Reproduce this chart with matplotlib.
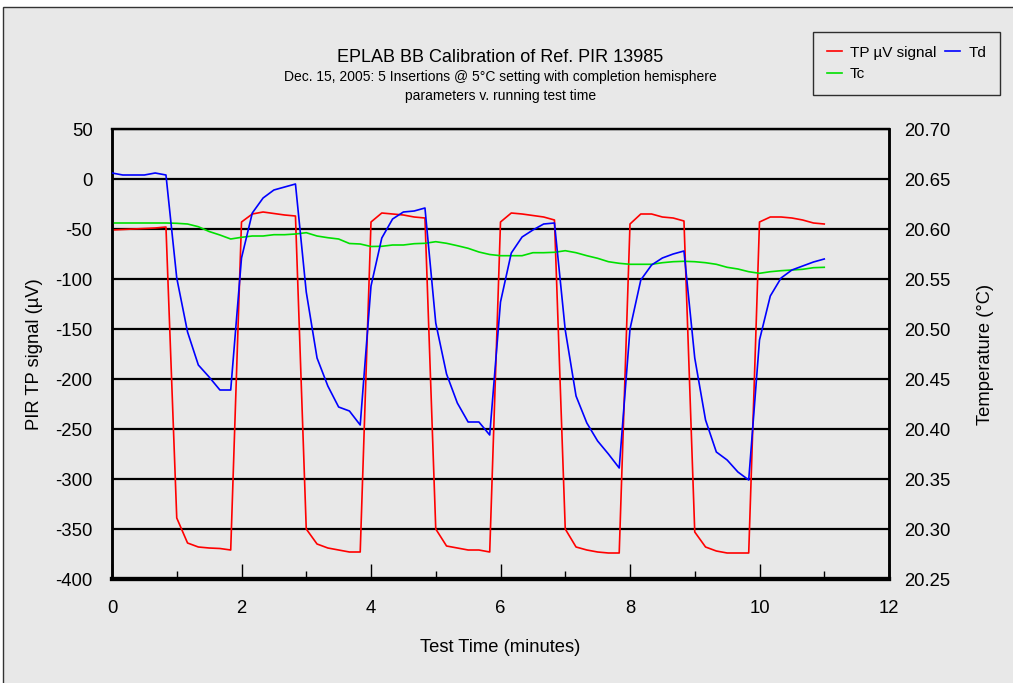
import matplotlib
matplotlib.use("Agg")
import matplotlib.pyplot as plt
from matplotlib.patches import Rectangle
from matplotlib.ticker import MultipleLocator

plt.rcParams['font.family'] = ['Liberation Sans', 'DejaVu Sans']
plt.rcParams['axes.unicode_minus'] = False

time_s = [0, 10, 20, 30, 40, 50, 60, 70, 80, 90, 100, 110, 120, 130, 140, 150, 160, 170,
          180, 190, 200, 210, 220, 230, 240, 250, 260, 270, 280, 290, 300, 310, 320, 330,
          340, 350, 360, 370, 380, 390, 400, 410, 420, 430, 440, 450, 460, 470, 480, 490,
          500, 510, 520, 530, 540, 550, 560, 570, 580, 590, 600, 610, 620, 630, 640, 650, 660]

tp_uV = [-51, -50.5, -50, -49.5, -49, -48,
         -339, -364, -368, -369, -369.5, -371,
         -43, -35, -33, -34.5, -36, -37,
         -350, -365, -369, -371, -373, -373,
         -43, -34, -35, -36, -38, -39,
         -350, -367, -369, -371, -371, -373,
         -43, -34, -35, -36.5, -38, -41,
         -350, -368, -371, -373, -374, -374,
         -45, -35, -35, -38, -39, -42,
         -353, -368, -372, -374, -374, -374,
         -43, -38, -38, -39, -41, -44, -45]

td_C = [20.656, 20.654, 20.654, 20.654, 20.656, 20.654,
        20.551, 20.497, 20.464, 20.452, 20.439, 20.439,
        20.571, 20.616, 20.631, 20.639, 20.642, 20.645,
        20.537, 20.471, 20.443, 20.422, 20.418, 20.404,
        20.543, 20.591, 20.610, 20.617, 20.618, 20.621,
        20.506, 20.455, 20.426, 20.407, 20.407, 20.394,
        20.527, 20.576, 20.592, 20.599, 20.605, 20.606,
        20.499, 20.433, 20.406, 20.388, 20.375, 20.361,
        20.500, 20.549, 20.564, 20.571, 20.575, 20.578,
        20.471, 20.409, 20.377, 20.369, 20.357, 20.349,
        20.489, 20.533, 20.551, 20.559, 20.563, 20.567, 20.570]

tc_C = [20.606, 20.606, 20.606, 20.606, 20.606, 20.606,
        20.6057, 20.605, 20.6023, 20.5975, 20.594, 20.590,
        20.5917, 20.593, 20.593, 20.5943, 20.5943, 20.595,
        20.5963, 20.593, 20.5913, 20.590, 20.5855, 20.585,
        20.5825, 20.5827, 20.584, 20.584, 20.5853, 20.5857,
        20.5873, 20.5857, 20.5833, 20.5807, 20.577, 20.5745,
        20.5733, 20.5733, 20.5733, 20.5763, 20.5763, 20.5767,
        20.5783, 20.5763, 20.5733, 20.5707, 20.5673, 20.5657,
        20.5647, 20.5647, 20.5647, 20.5663, 20.5673, 20.5677,
        20.5673, 20.5663, 20.5647, 20.5617, 20.560, 20.5573,
        20.5557, 20.5573, 20.5583, 20.559, 20.5597, 20.5613, 20.5617]

time_min = [s / 60.0 for s in time_s]

W, H = 1013, 683
BG = '#e8e8e8'
fig = plt.figure(figsize=(W / 100, H / 100), dpi=100, facecolor='white')
fig.patches.append(Rectangle((3 / W, -0.01), 1.0, 1 - 7 / H + 0.01, transform=fig.transFigure,
                             facecolor=BG, edgecolor='#333333', linewidth=1.0, zorder=-10))

AX_L, AX_R, AX_T, AX_B = 112, 889, 129, 579
ax = fig.add_axes([AX_L / W, (H - AX_B) / H, (AX_R - AX_L) / W, (AX_B - AX_T) / H])
ax.set_facecolor(BG)
ax2 = ax.twinx()

l1, = ax.plot(time_min, tp_uV, color='#ff0000', lw=1.2, label='TP µV signal', zorder=3)
l2, = ax2.plot(time_min, td_C, color='#0000ff', lw=1.2, label='Td', zorder=3)
l3, = ax2.plot(time_min, tc_C, color='#00e000', lw=1.2, label='Tc', zorder=2)

ax.set_xlim(0, 12)
ax.set_ylim(-400, 50)
ax2.set_ylim(20.25, 20.70)
ax.set_yticks(range(-400, 51, 50))
ax2.set_yticks([20.25, 20.30, 20.35, 20.40, 20.45, 20.50, 20.55, 20.60, 20.65, 20.70])
ax2.set_yticklabels(['%.2f' % v for v in ax2.get_yticks()])
ax.xaxis.set_major_locator(MultipleLocator(2))
ax.xaxis.set_minor_locator(MultipleLocator(1))

ax.yaxis.grid(True, color='black', linewidth=1.6)
ax.set_axisbelow(True)

fs = 13.3
ax.tick_params(axis='x', which='major', direction='in', length=10.5, width=1, pad=15, labelsize=fs, color='black')
ax.tick_params(axis='x', which='minor', direction='in', length=6, width=1, color='black')
ax.tick_params(axis='y', length=0, pad=14, labelsize=fs)
ax2.tick_params(axis='y', length=0, pad=11, labelsize=fs)

for a in (ax, ax2):
    a.spines['top'].set_linewidth(1.6)
    a.spines['left'].set_linewidth(1.8)
    a.spines['right'].set_linewidth(1.8)
    a.spines['bottom'].set_linewidth(3)

lfs = 13.2
ax.set_xlabel('Test Time (minutes)', fontsize=lfs, labelpad=16)
ax.set_ylabel('PIR TP signal (µV)', fontsize=lfs)
ax2.set_ylabel('Temperature (°C)', fontsize=lfs)
ax.yaxis.set_label_coords((35 - AX_L) / (AX_R - AX_L), 0.5)
ax2.yaxis.set_label_coords((985 - AX_L) / (AX_R - AX_L), 0.5)
ax.yaxis.label.set_va('center')
ax2.yaxis.label.set_va('center')

cx = (AX_L + AX_R) / 2 / W
fig.text(cx, 1 - 57 / H, 'EPLAB BB Calibration of Ref. PIR 13985', ha='center', va='center', fontsize=13)
fig.text(cx, 1 - 77 / H, 'Dec. 15, 2005: 5 Insertions @ 5°C setting with completion hemisphere',
         ha='center', va='center', fontsize=10)
fig.text(cx, 1 - 96 / H, 'parameters v. running test time', ha='center', va='center', fontsize=10)

leg = fig.legend([l1, l3, l2], ['TP µV signal', 'Tc', 'Td'], ncol=2,
                 loc='upper left', bbox_to_anchor=(813 / W, 1 - 32 / H), borderaxespad=0,
                 frameon=True, fancybox=False, fontsize=11, handlelength=1.0,
                 handletextpad=0.5, columnspacing=0.6, borderpad=0.9, labelspacing=0.5)
leg.get_frame().set_edgecolor('black')
leg.get_frame().set_facecolor(BG)
leg.get_frame().set_linewidth(1.0)

fig.savefig('out.png', dpi=100, facecolor=fig.get_facecolor())
